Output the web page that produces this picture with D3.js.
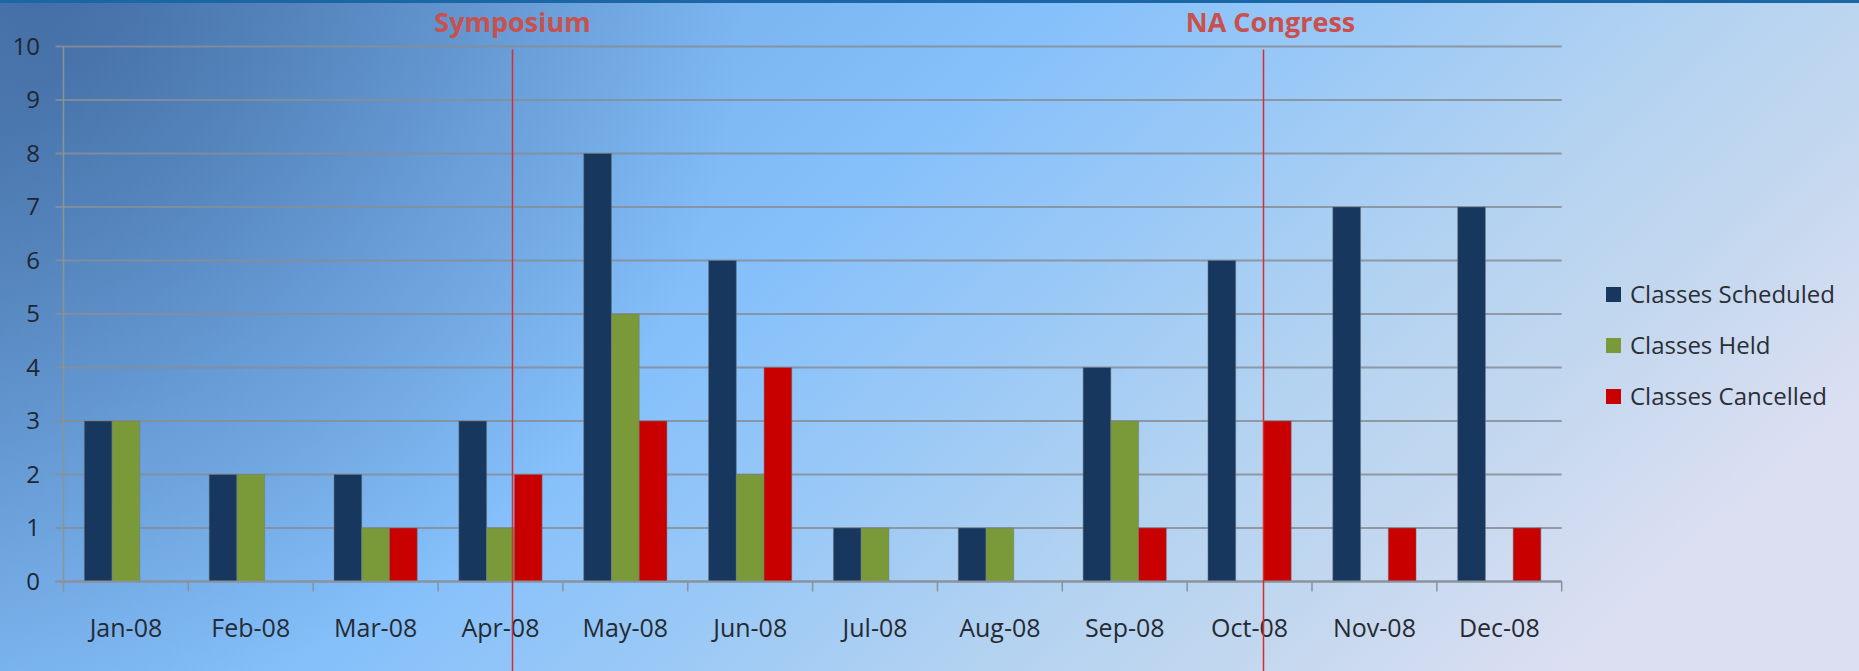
<!DOCTYPE html>
<html>
<head>
<meta charset="utf-8">
<script src="https://cdn.jsdelivr.net/npm/d3@7"></script>
<style>
  html, body { margin: 0; padding: 0; overflow: hidden; }
  body { width: 1859px; height: 671px; }
  text { font-family: "Open Sans", "Noto Sans", sans-serif; }
</style>
</head>
<body>
<div id="chart"></div>
<script>
// data
const months = ["Jan-08", "Feb-08", "Mar-08", "Apr-08", "May-08", "Jun-08",
                "Jul-08", "Aug-08", "Sep-08", "Oct-08", "Nov-08", "Dec-08"];
const seriesNames = ["Classes Scheduled", "Classes Held", "Classes Cancelled"];
const scheduled = [3, 2, 2, 3, 8, 6, 1, 1, 4, 6, 7, 7];
const held      = [3, 2, 1, 1, 5, 2, 1, 1, 3, 0, 0, 0];
const cancelled = [0, 0, 1, 2, 3, 4, 0, 0, 1, 3, 1, 1];
const yTicks = [0, 1, 2, 3, 4, 5, 6, 7, 8, 9, 10];
// events marked on the chart (month + offset inside the month band)
const events = [
    {label: "Symposium", month: "Apr-08", offset: 0.59},
    {label: "NA Congress", month: "Oct-08", offset: 0.61}
];

const colors = ["#17375e", "#7a9a3a", "#c80000"];
const W = 1859, H = 671;
const plotLeft = 63.5, plotRight = 1561.7, plotTop = 46.5, plotBottom = 581.5;

// scales
const x0 = d3.scaleBand(months, [plotLeft, plotRight]).paddingInner(1 / 3).paddingOuter(1 / 6);
const x1 = d3.scaleBand(seriesNames, [0, x0.bandwidth()]);
const y = d3.scaleLinear([0, 10], [plotBottom, plotTop]);
const color = d3.scaleOrdinal(seriesNames, colors);

// build rows for grouped bars
const rows = months.map((m, i) => ({
    month: m,
    values: [scheduled[i], held[i], cancelled[i]].map((v, j) => ({key: seriesNames[j], value: v}))
}));

let svg = d3.select("#chart")
    .append("svg")
    .attr("width", W)
    .attr("height", H);

// background gradients
let defs = svg.append("defs");
let bg = defs.append("linearGradient")
    .attr("id", "bg")
    .attr("x1", 0).attr("y1", 0.2).attr("x2", 1).attr("y2", 0.6);
[[0, "#6599d2"], [0.22, "#78b1ec"], [0.42, "#85c0fb"], [0.58, "#9bc9f6"],
 [0.72, "#b2d2f1"], [0.86, "#c4d8ef"], [1, "#dcdff2"]].forEach(s => {
    bg.append("stop").attr("offset", s[0]).attr("stop-color", s[1]);
});
let shade = defs.append("radialGradient")
    .attr("id", "shade")
    .attr("cx", 0.02).attr("cy", 0).attr("r", 0.38)
    .attr("gradientTransform", "scale(1, 2.77)");
shade.append("stop").attr("offset", 0).attr("stop-color", "#24467a").attr("stop-opacity", 0.5);
shade.append("stop").attr("offset", 1).attr("stop-color", "#24467a").attr("stop-opacity", 0);

svg.append("rect").attr("width", W).attr("height", H).attr("fill", "url(#bg)");
svg.append("rect").attr("width", W).attr("height", H).attr("fill", "url(#shade)");
// dark strip at the very top
svg.append("rect").attr("width", W).attr("height", 3).attr("fill", "#1b67a5");

// horizontal grid lines (they poke out a little left of the axis)
svg.selectAll("line.grid")
    .data(yTicks)
    .enter()
    .append("line")
    .attr("class", "grid")
    .attr("x1", plotLeft - 8)
    .attr("x2", plotRight)
    .attr("y1", d => y(d))
    .attr("y2", d => y(d))
    .style("stroke", "#868e98")
    .style("stroke-opacity", 0.85)
    .style("stroke-width", 2);

// y axis line
svg.append("line")
    .attr("x1", plotLeft).attr("x2", plotLeft)
    .attr("y1", plotTop).attr("y2", plotBottom)
    .style("stroke", "#8a929c")
    .style("stroke-width", 1.5);

// x tick marks at the month boundaries
let bounds = d3.range(months.length + 1).map(i => plotLeft + i * x0.step());
svg.selectAll("line.xtick")
    .data(bounds)
    .enter()
    .append("line")
    .attr("class", "xtick")
    .attr("x1", d => d).attr("x2", d => d)
    .attr("y1", plotBottom).attr("y2", plotBottom + 10)
    .style("stroke", "#8a929c")
    .style("stroke-width", 1.5);

// bars
let groups = svg.selectAll("g.month")
    .data(rows)
    .enter()
    .append("g")
    .attr("class", "month")
    .attr("transform", d => "translate(" + x0(d.month) + ",0)");

groups.selectAll("rect")
    .data(d => d.values.filter(v => v.value > 0))
    .enter()
    .append("rect")
    .attr("x", d => x1(d.key))
    .attr("y", d => y(d.value))
    .attr("width", x1.bandwidth())
    .attr("height", d => y(0) - y(d.value))
    .style("fill", d => color(d.key))
    .style("stroke", "#6f7780")
    .style("stroke-opacity", 0.5)
    .style("stroke-width", 1);

// x axis line on top of bars
svg.append("line")
    .attr("x1", plotLeft - 8).attr("x2", plotRight)
    .attr("y1", plotBottom).attr("y2", plotBottom)
    .style("stroke", "#8a929c")
    .style("stroke-width", 2);

// axis labels
let xAxis = d3.axisBottom(x0).tickSize(0).tickPadding(55);
let gx = svg.append("g")
    .attr("transform", "translate(0," + plotBottom + ")")
    .call(xAxis);
gx.select(".domain").remove();
gx.selectAll("text")
    .attr("dy", 0)
    .style("font-size", "25px")
    .style("fill", "#262b33");

let yAxis = d3.axisLeft(y).tickValues(yTicks).tickSize(0).tickPadding(plotLeft - 40);
let gy = svg.append("g")
    .attr("transform", "translate(" + plotLeft + ",0)")
    .call(yAxis);
gy.select(".domain").remove();
gy.selectAll("text")
    .style("font-size", "24px")
    .style("fill", "#1f2630");

// event marker lines and labels
events.forEach((e, i) => {
    let ex = Math.round(x0(e.month) - (x0.step() - x0.bandwidth()) / 2 + e.offset * x0.step()) + 0.5;
    svg.append("line")
        .attr("x1", ex).attr("x2", ex)
        .attr("y1", plotTop + 3).attr("y2", H)
        .style("stroke", "#d62e2e")
        .style("stroke-width", 1.5);
    svg.append("text")
        .attr("x", ex + (i === 0 ? 0 : 7))
        .attr("y", 32)
        .attr("text-anchor", "middle")
        .style("font-size", "27px")
        .style("font-weight", 700)
        .style("fill", "#c9504c")
        .text(e.label);
});

// legend
let legend = svg.selectAll("g.legend")
    .data(seriesNames)
    .enter()
    .append("g")
    .attr("class", "legend")
    .attr("transform", (d, i) => "translate(1606," + (295 + i * 51) + ")");
legend.append("rect")
    .attr("x", 0).attr("y", -8)
    .attr("width", 15).attr("height", 15)
    .style("fill", d => color(d));
legend.append("text")
    .attr("x", 24)
    .attr("y", 0)
    .attr("dy", "0.35em")
    .style("font-size", "24px")
    .style("fill", "#2a2f36")
    .text(d => d);
</script>
</body>
</html>
